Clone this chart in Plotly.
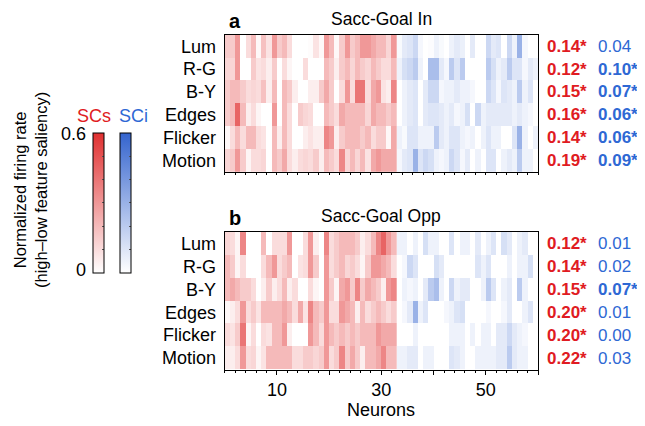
import plotly.graph_objects as go

# ---------------- data ----------------
features = ["Lum", "R-G", "B-Y", "Edges", "Flicker", "Motion"]
n_scs = 33   # neurons 1..33 (SCs, red)
n_sci = 27   # neurons 34..60 (SCi, blue)

# Sacc-Goal In (panel a), 60 neurons per feature
in_lum = [.15,.15,.30,.00,.10,.20,.02,.18,.08,.30,.15,.20,.10,.00,.00,.00,.01,.08,.02,.30,.20,.02,.15,.30,.15,.20,.30,.30,.25,.20,.20,.12,.30,
          .02,.08,.10,.15,.03,.00,.01,.05,.02,.00,.05,.08,.06,.00,.08,.00,.00,.15,.08,.10,.00,.15,.05,.30,.03,.00,.00]
in_rg = [.12,.12,.30,.00,.00,.15,.08,.10,.05,.15,.00,.10,.03,.00,.00,.10,.00,.00,.00,.20,.15,.05,.15,.20,.12,.20,.15,.12,.20,.15,.10,.10,.20,
         .05,.12,.15,.20,.05,.00,.25,.25,.08,.03,.20,.10,.20,.00,.00,.00,.00,.20,.12,.05,.08,.20,.10,.10,.03,.08,.05]
in_by = [.15,.20,.20,.15,.10,.12,.10,.18,.05,.20,.00,.20,.15,.05,.00,.00,.05,.05,.15,.25,.15,.00,.10,.30,.10,.40,.40,.10,.25,.30,.08,.05,.35,
         .00,.05,.08,.10,.00,.08,.15,.15,.03,.05,.05,.08,.05,.05,.03,.00,.00,.15,.10,.03,.10,.08,.05,.20,.05,.10,.00]
in_edges = [.15,.20,.45,.20,.05,.10,.03,.00,.00,.30,.00,.20,.10,.00,.15,.12,.10,.00,.00,.20,.15,.10,.25,.20,.20,.20,.20,.12,.25,.20,.20,.15,.20,
            .00,.05,.08,.10,.00,.08,.10,.10,.08,.05,.08,.03,.05,.12,.00,.15,.05,.08,.08,.08,.08,.08,.05,.08,.05,.03,.00]
in_flicker = [.02,.10,.20,.10,.20,.20,.10,.08,.00,.20,.05,.20,.10,.00,.00,.05,.08,.05,.05,.35,.30,.05,.15,.20,.20,.20,.15,.20,.10,.15,.15,.02,.25,
              .05,.02,.10,.10,.05,.05,.05,.20,.08,.05,.10,.10,.05,.03,.05,.00,.05,.10,.05,.05,.00,.00,.10,.30,.05,.00,.05]
in_motion = [.12,.15,.30,.15,.03,.10,.10,.12,.00,.20,.15,.25,.10,.05,.10,.12,.10,.15,.05,.20,.15,.10,.35,.12,.20,.12,.20,.08,.25,.30,.25,.25,.25,
             .03,.08,.10,.30,.10,.15,.12,.05,.03,.05,.15,.10,.03,.08,.00,.05,.00,.10,.10,.00,.05,.08,.05,.20,.05,.05,.00]

# Sacc-Goal Opp (panel b)
opp_lum = [.12,.10,.03,.35,.00,.00,.00,.20,.00,.10,.10,.10,.30,.00,.00,.10,.30,.05,.00,.35,.10,.15,.20,.20,.20,.15,.05,.10,.20,.35,.45,.30,.20,
           .05,.05,.00,.05,.00,.12,.05,.05,.00,.00,.10,.00,.05,.05,.00,.08,.00,.05,.10,.00,.12,.08,.00,.05,.08,.00,.00]
opp_rg = [.20,.15,.03,.10,.00,.00,.00,.10,.20,.30,.10,.15,.20,.00,.08,.10,.30,.15,.00,.30,.10,.15,.20,.12,.15,.10,.03,.15,.30,.30,.25,.20,.10,
          .00,.03,.15,.10,.00,.00,.00,.12,.08,.00,.00,.00,.00,.00,.00,.10,.05,.10,.00,.00,.00,.05,.00,.05,.05,.12,.00]
opp_by = [.20,.25,.20,.15,.15,.10,.00,.05,.15,.05,.10,.20,.05,.10,.00,.00,.10,.03,.00,.30,.15,.03,.25,.30,.15,.35,.15,.25,.20,.15,.05,.30,.35,
          .00,.05,.03,.05,.00,.08,.20,.25,.05,.00,.15,.05,.08,.08,.00,.00,.05,.20,.10,.00,.05,.08,.00,.20,.05,.00,.00]
opp_edges = [.02,.05,.10,.30,.10,.15,.08,.20,.20,.20,.20,.25,.20,.10,.25,.08,.35,.20,.15,.30,.10,.10,.30,.25,.20,.05,.20,.10,.15,.20,.15,.10,.15,
             .00,.03,.08,.30,.05,.10,.00,.00,.00,.03,.05,.10,.12,.00,.00,.00,.00,.03,.00,.00,.03,.08,.00,.00,.05,.10,.00]
opp_flicker = [.10,.08,.15,.40,.03,.10,.00,.10,.08,.20,.20,.30,.05,.00,.00,.00,.30,.20,.10,.30,.20,.15,.20,.15,.20,.15,.20,.20,.20,.30,.25,.25,.25,
               .00,.00,.00,.05,.00,.00,.00,.00,.00,.00,.05,.05,.05,.00,.05,.00,.05,.05,.00,.08,.08,.15,.08,.05,.03,.00,.00]
opp_motion = [.05,.05,.10,.30,.10,.12,.03,.08,.20,.20,.20,.20,.20,.10,.10,.15,.15,.12,.15,.30,.10,.15,.35,.15,.25,.15,.05,.20,.20,.25,.35,.20,.20,
              .05,.05,.08,.08,.00,.05,.05,.00,.00,.00,.10,.08,.05,.00,.00,.05,.05,.05,.05,.08,.08,.20,.08,.05,.05,.00,.00]

# mean values printed at right (SCs, SCi) and significance
in_scs = ["0.14*", "0.12*", "0.15*", "0.16*", "0.14*", "0.19*"]
in_sci = ["0.04", "0.10*", "0.07*", "0.06*", "0.06*", "0.09*"]
opp_scs = ["0.12*", "0.14*", "0.15*", "0.20*", "0.20*", "0.22*"]
opp_sci = ["0.01", "0.02", "0.07*", "0.01", "0.00", "0.03"]

x_tickvals = [10, 20, 30, 40, 50, 60]
x_ticktext = ["10", "", "30", "", "50", ""]
zmax = 0.6

# ---------------- styling ----------------
W, H = 645, 426
OFF = 8  # page body margin
FONT = "Liberation Sans, Arial, Helvetica, sans-serif"
FS = 18
VFS = 17
RED_TXT = "#e01b22"
BLUE_TXT = "#2e68d4"
red_scale = [[0, "rgb(255,255,255)"], [1, "rgb(224,48,48)"]]
blue_scale = [[0, "rgb(255,255,255)"], [1, "rgb(52,100,206)"]]

def px(x):
    return (x - OFF) / W

def py(y):
    return 1 - (y - OFF) / H

panels = [
    dict(rows=[in_lum, in_rg, in_by, in_edges, in_flicker, in_motion],
         scs=in_scs, sci=in_sci, title="Sacc-Goal In", letter="a",
         top=34.7, bottom=172.0, xa="x", ya="y"),
    dict(rows=[opp_lum, opp_rg, opp_by, opp_edges, opp_flicker, opp_motion],
         scs=opp_scs, sci=opp_sci, title="Sacc-Goal Opp", letter="b",
         top=232.0, bottom=369.5, xa="x2", ya="y2"),
]

fig = go.Figure()
edges_scs = list(range(0, n_scs + 1))
edges_sci = list(range(n_scs, n_scs + n_sci + 1))

def cbar(x_left):
    return dict(x=px(x_left), xanchor="left", xpad=0, ypad=0,
                y=py(202.7), yanchor="middle", len=140, lenmode="pixels",
                thickness=11, thicknessmode="pixels",
                outlinewidth=1, outlinecolor="black",
                tickvals=[0, .1, .2, .3, .4, .5, .6], ticks="inside",
                ticklen=2, tickcolor="#555", showticklabels=False)

annotations = []
for i, p in enumerate(panels):
    z_scs = [r[:n_scs] for r in p["rows"]]
    z_sci = [r[n_scs:] for r in p["rows"]]
    show = (i == 0)
    fig.add_trace(go.Heatmap(
        z=z_scs, x=edges_scs, y=features, xaxis=p["xa"], yaxis=p["ya"],
        colorscale=red_scale, zmin=0, zmax=zmax, showscale=show,
        hoverinfo="skip", colorbar=cbar(93.3)))
    fig.add_trace(go.Heatmap(
        z=z_sci, x=edges_sci, y=features, xaxis=p["xa"], yaxis=p["ya"],
        colorscale=blue_scale, zmin=0, zmax=zmax, showscale=show,
        hoverinfo="skip", colorbar=cbar(120.3)))

    for f, s_txt, c_txt in zip(features, p["scs"], p["sci"]):
        annotations.append(dict(x=px(545), y=f, xref="paper", yref=p["ya"],
                                text="<b>%s</b>" % s_txt, showarrow=False,
                                xanchor="left", yanchor="middle",
                                font=dict(size=VFS, color=RED_TXT, family=FONT)))
        c_html = "<b>%s</b>" % c_txt if c_txt.endswith("*") else c_txt
        annotations.append(dict(x=px(596), y=f, xref="paper", yref=p["ya"],
                                text=c_html, showarrow=False,
                                xanchor="left", yanchor="middle",
                                font=dict(size=VFS, color=BLUE_TXT, family=FONT)))
    annotations.append(dict(x=px(227), y=py(max(p["top"] - 27, 8)), xref="paper", yref="paper",
                            text="<b>%s</b>" % p["letter"], showarrow=False,
                            xanchor="left", yanchor="top",
                            font=dict(size=20, color="black", family=FONT)))
    annotations.append(dict(x=px(381.4), y=py(p["top"] - 16), xref="paper", yref="paper",
                            text=p["title"], showarrow=False,
                            xanchor="center", yanchor="middle",
                            font=dict(size=17.5, color="black", family=FONT)))

# colorbar labels
annotations += [
    dict(x=px(94), y=py(116), xref="paper", yref="paper", text="SCs", showarrow=False,
         xanchor="center", yanchor="middle", font=dict(size=FS, color=RED_TXT, family=FONT)),
    dict(x=px(133), y=py(116), xref="paper", yref="paper", text="SCi", showarrow=False,
         xanchor="center", yanchor="middle", font=dict(size=FS, color=BLUE_TXT, family=FONT)),
    dict(x=px(88), y=py(134), xref="paper", yref="paper", text="0.6", showarrow=False,
         xanchor="right", yanchor="middle", font=dict(size=FS, color="black", family=FONT)),
    dict(x=px(88), y=py(270), xref="paper", yref="paper", text="0", showarrow=False,
         xanchor="right", yanchor="middle", font=dict(size=FS, color="black", family=FONT)),
    dict(x=px(31), y=py(190), xref="paper", yref="paper",
         text="Normalized firing rate<br>(high\u2013low feature saliency)", showarrow=False,
         textangle=-90, xanchor="center", yanchor="middle",
         font=dict(size=16.5, color="black", family=FONT)),
    dict(x=px(381.4), y=py(410), xref="paper", yref="paper", text="Neurons", showarrow=False,
         xanchor="center", yanchor="middle", font=dict(size=FS, color="black", family=FONT)),
]

xdom = [px(224.7), px(538.0)]
def xaxis_cfg(labels):
    return dict(domain=xdom, range=[0, n_scs + n_sci], showgrid=False, zeroline=False,
                showline=True, linecolor="black", linewidth=1, mirror=True,
                ticks="outside", ticklen=4, tickcolor="black",
                tickvals=x_tickvals, ticktext=x_ticktext if labels else [""] * len(x_tickvals),
                showticklabels=labels,
                minor=dict(dtick=2, tick0=0, ticks="outside", ticklen=2, tickcolor="black"),
                tickfont=dict(size=FS, color="black", family=FONT))

def yaxis_cfg(top, bottom, anchor):
    return dict(domain=[py(bottom), py(top)], autorange="reversed", showgrid=False,
                zeroline=False, showline=True, linecolor="black", linewidth=1, mirror=True,
                ticks="", ticklabelstandoff=4, anchor=anchor,
                tickfont=dict(size=FS, color="black", family=FONT))

fig.update_layout(
    width=W, height=H, margin=dict(l=0, r=0, t=0, b=0),
    paper_bgcolor="white", plot_bgcolor="white",
    font=dict(family=FONT, color="black"),
    xaxis=dict(xaxis_cfg(False), anchor="y"),
    yaxis=yaxis_cfg(panels[0]["top"], panels[0]["bottom"], "x"),
    xaxis2=dict(xaxis_cfg(True), anchor="y2"),
    yaxis2=yaxis_cfg(panels[1]["top"], panels[1]["bottom"], "x2"),
    annotations=annotations,
    showlegend=False,
)

fig.write_html("out.html")
